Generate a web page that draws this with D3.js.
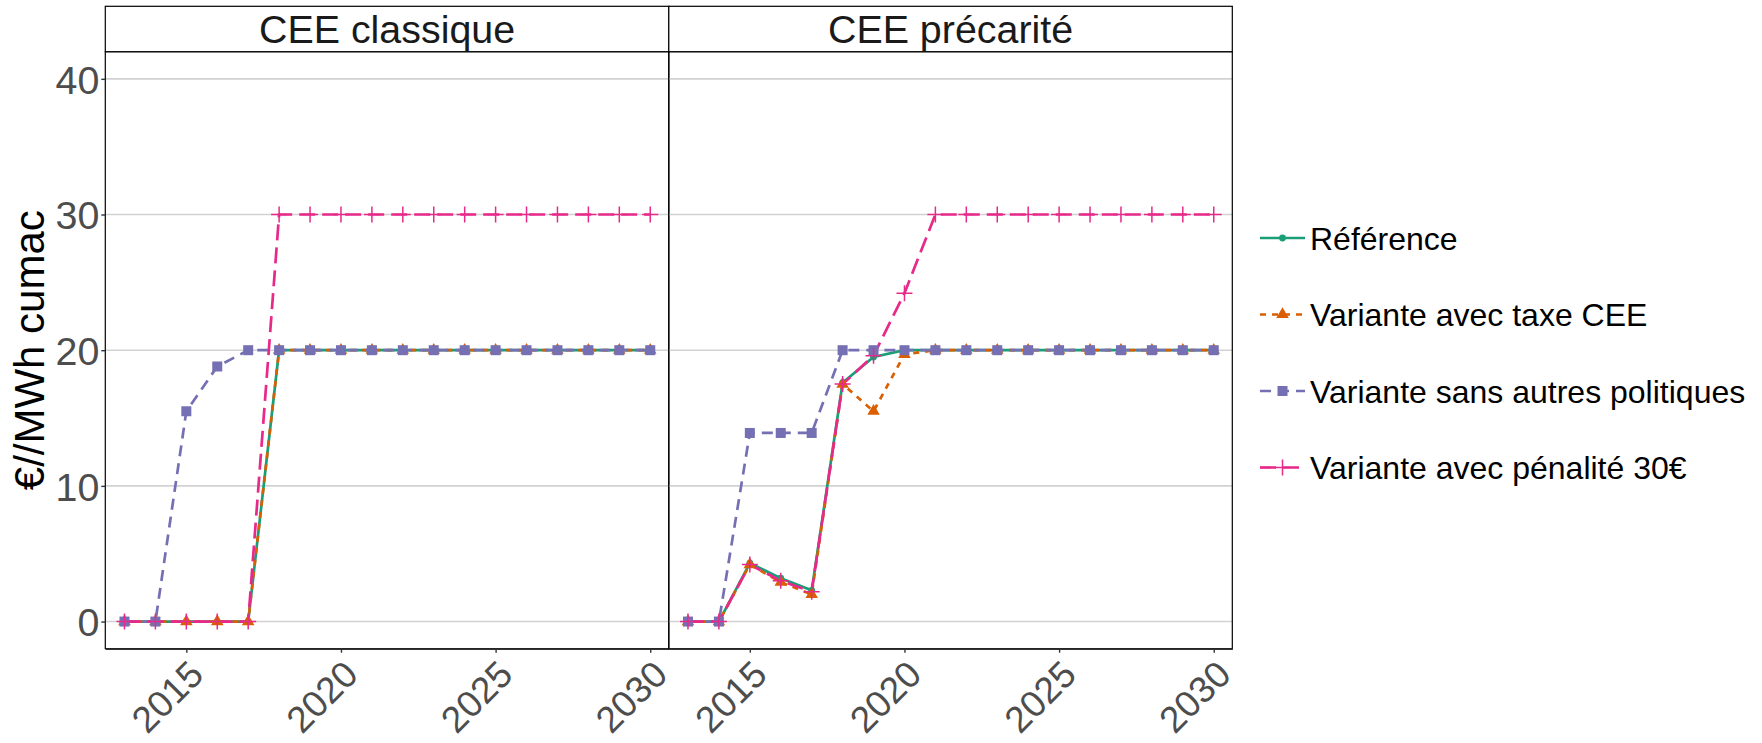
<!DOCTYPE html>
<html>
<head>
<meta charset="utf-8">
<script src="https://cdn.jsdelivr.net/npm/d3@7"></script>
<style>
  html, body { margin: 0; padding: 0; background: #ffffff; }
  svg { display: block; font-family: "Liberation Sans", Arial, sans-serif; }
</style>
</head>
<body>
<svg id="chart" width="1762" height="743"></svg>
<script>
// ---------- data ----------
const years = [2013, 2014, 2015, 2016, 2017, 2018, 2019, 2020, 2021, 2022, 2023, 2024, 2025, 2026, 2027, 2028, 2029, 2030];
const panels = ["CEE classique", "CEE précarité"];
const seriesNames = ["Référence", "Variante avec taxe CEE", "Variante sans autres politiques", "Variante avec pénalité 30€"];
const xTicks = [2015, 2020, 2025, 2030];
const yTicks = [0, 10, 20, 30, 40];
const yTitle = "€//MWh cumac";

// CEE classique
const classiqueReference = [0, 0, 0, 0, 0, 20, 20, 20, 20, 20, 20, 20, 20, 20, 20, 20, 20, 20];
const classiqueTaxe      = [0, 0, 0, 0, 0, 20, 20, 20, 20, 20, 20, 20, 20, 20, 20, 20, 20, 20];
const classiqueSans      = [0, 0, 15.5, 18.8, 20, 20, 20, 20, 20, 20, 20, 20, 20, 20, 20, 20, 20, 20];
const classiquePenalite  = [0, 0, 0, 0, 0, 30, 30, 30, 30, 30, 30, 30, 30, 30, 30, 30, 30, 30];

// CEE précarité
const precariteReference = [0, 0, 4.3, 3.2, 2.3, 17.6, 19.5, 20, 20, 20, 20, 20, 20, 20, 20, 20, 20, 20];
const precariteTaxe      = [0, 0, 4.2, 2.9, 2.0, 17.5, 15.5, 19.7, 20, 20, 20, 20, 20, 20, 20, 20, 20, 20];
const precariteSans      = [0, 0, 13.9, 13.9, 13.9, 20, 20, 20, 20, 20, 20, 20, 20, 20, 20, 20, 20, 20];
const precaritePenalite  = [0, 0, 4.2, 3.0, 2.2, 17.5, 19.6, 24.2, 30, 30, 30, 30, 30, 30, 30, 30, 30, 30];

const panelData = [
  [classiqueReference, classiqueTaxe, classiqueSans, classiquePenalite],
  [precariteReference, precariteTaxe, precariteSans, precaritePenalite]
];

// ---------- styles ----------
const colors = ["#1B9E77", "#D95F02", "#7570B3", "#E7298A"];
const dashes = [null, "6,6", "11,7", "16,7"];
const shapes = ["circle", "triangle", "square", "plus"];
const FONT = "'Liberation Sans', Arial, sans-serif";
const LW = 2.7;

// ---------- layout ----------
const svg = d3.select("#chart");
const panelLeft = 105.3, panelW = 563.5;
const stripTop = 6.3, panelTop = 51.7, panelBottom = 648.7;

const y = d3.scaleLinear().domain([-2, 42]).range([panelBottom, panelTop]);

function drawMarker(g, shape, cx, cy, color) {
  if (shape === "circle") {
    g.append("circle").attr("cx", cx).attr("cy", cy).attr("r", 3.4).attr("fill", color);
  } else if (shape === "triangle") {
    const s = 12.5, h = s * Math.sqrt(3) / 2;
    g.append("path")
      .attr("d", `M${cx},${cy - h * 2 / 3}L${cx + s / 2},${cy + h / 3}L${cx - s / 2},${cy + h / 3}Z`)
      .attr("fill", color);
  } else if (shape === "square") {
    const s = 10;
    g.append("rect").attr("x", cx - s / 2).attr("y", cy - s / 2).attr("width", s).attr("height", s).attr("fill", color);
  } else {
    const a = 8;
    g.append("path")
      .attr("d", `M${cx - a},${cy}H${cx + a}M${cx},${cy - a}V${cy + a}`)
      .attr("stroke", color).attr("stroke-width", 1.5).attr("fill", "none");
  }
}

panels.forEach((name, p) => {
  const x0 = panelLeft + p * panelW;
  const x = d3.scaleLinear().domain([2012.38, 2030.6]).range([x0, x0 + panelW]);
  const g = svg.append("g");

  // gridlines
  g.selectAll("line.grid").data(yTicks).enter().append("line")
    .attr("x1", x0).attr("x2", x0 + panelW)
    .attr("y1", d => y(d)).attr("y2", d => y(d))
    .attr("stroke", "#d2d2d2").attr("stroke-width", 1.6);

  // lines
  const line = d3.line().x((d, i) => x(years[i])).y(d => y(d));
  const clipId = "clip" + p;
  svg.append("clipPath").attr("id", clipId).append("rect")
    .attr("x", x0).attr("y", panelTop).attr("width", panelW).attr("height", panelBottom - panelTop);
  const lg = g.append("g").attr("clip-path", `url(#${clipId})`);
  panelData[p].forEach((vals, s) => {
    lg.append("path").datum(vals)
      .attr("d", line)
      .attr("fill", "none")
      .attr("stroke", colors[s])
      .attr("stroke-width", LW)
      .attr("stroke-dasharray", dashes[s]);
  });
  panelData[p].forEach((vals, s) => {
    vals.forEach((v, i) => drawMarker(lg, shapes[s], x(years[i]), y(v), colors[s]));
  });

  // panel border
  g.append("rect").attr("x", x0).attr("y", panelTop).attr("width", panelW).attr("height", panelBottom - panelTop)
    .attr("fill", "none").attr("stroke", "#000").attr("stroke-width", 1.2);
  // strip
  g.append("rect").attr("x", x0).attr("y", stripTop).attr("width", panelW).attr("height", panelTop - stripTop)
    .attr("fill", "#fff").attr("stroke", "#000").attr("stroke-width", 1.2);
  g.append("text").attr("x", x0 + panelW / 2).attr("y", 43)
    .attr("text-anchor", "middle").attr("font-size", 39.4).attr("fill", "#1a1a1a")
    .attr("font-family", FONT).text(name);

  // x axis
  const xAxis = d3.axisBottom(x).tickValues(xTicks).tickSize(4).tickSizeOuter(0).tickFormat(d3.format("d"));
  const ax = g.append("g").attr("transform", `translate(0,${panelBottom})`).call(xAxis);
  ax.select(".domain").attr("stroke", "#333").attr("stroke-width", 1.4);
  ax.selectAll(".tick line").attr("stroke", "#333").attr("stroke-width", 1.4);
  ax.selectAll(".tick text")
    .attr("x", 0).attr("y", 0).attr("dy", null)
    .attr("text-anchor", "end")
    .attr("transform", "translate(18.7,28) rotate(-45)")
    .attr("font-size", 37).attr("fill", "#4d4d4d").attr("font-family", FONT);

  if (p === 0) {
    const yAxis = d3.axisLeft(y).tickValues(yTicks).tickSize(4).tickSizeOuter(0).tickFormat(d3.format("d"));
    const ay = g.append("g").attr("transform", `translate(${x0},0)`).call(yAxis);
    ay.select(".domain").remove();
    ay.selectAll(".tick line").attr("stroke", "#333").attr("stroke-width", 1.4);
    ay.selectAll(".tick text").attr("x", -6).attr("dy", "0.36em")
      .attr("font-size", 39.4).attr("fill", "#4d4d4d").attr("font-family", FONT);
  }
});

// y title
svg.append("text")
  .attr("transform", `translate(44,${(panelTop + panelBottom) / 2}) rotate(-90)`)
  .attr("text-anchor", "middle").attr("font-size", 42).attr("fill", "#000").attr("font-family", FONT)
  .text(yTitle);

// legend
const legendRows = [238, 314.5, 391, 467.5];
const lgd = svg.append("g");
seriesNames.forEach((n, s) => {
  const cy = legendRows[s];
  lgd.append("line").attr("x1", 1260).attr("x2", 1305).attr("y1", cy).attr("y2", cy)
    .attr("stroke", colors[s]).attr("stroke-width", LW).attr("stroke-dasharray", dashes[s]);
  drawMarker(lgd, shapes[s], 1282.5, cy, colors[s]);
  lgd.append("text").attr("x", 1310).attr("y", cy + 11.5)
    .attr("font-size", 32).attr("fill", "#000").attr("font-family", FONT).text(n);
});
</script>
</body>
</html>
